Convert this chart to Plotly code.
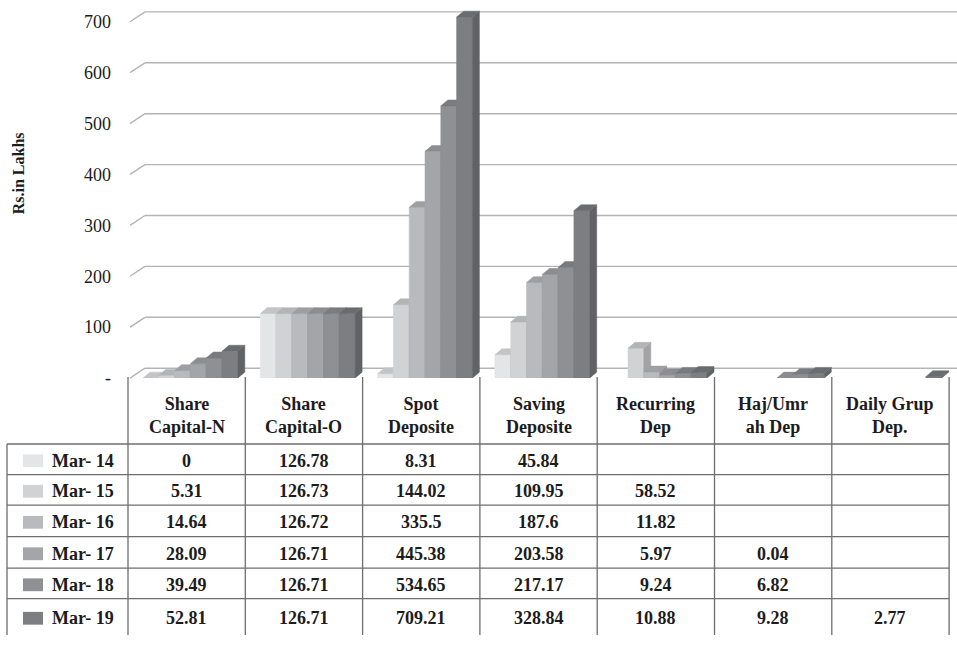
import plotly.graph_objects as go

# ---- data ----
categories = ["Share<br>Capital-N", "Share<br>Capital-O", "Spot<br>Deposite",
              "Saving<br>Deposite", "Recurring<br>Dep", "Haj/Umr<br>ah Dep",
              "Daily Grup<br>Dep."]
years = ["Mar- 14", "Mar- 15", "Mar- 16", "Mar- 17", "Mar- 18", "Mar- 19"]
mar14 = [0, 126.78, 8.31, 45.84, None, None, None]
mar15 = [5.31, 126.73, 144.02, 109.95, 58.52, None, None]
mar16 = [14.64, 126.72, 335.5, 187.6, 11.82, None, None]
mar17 = [28.09, 126.71, 445.38, 203.58, 5.97, 0.04, None]
mar18 = [39.49, 126.71, 534.65, 217.17, 9.24, 6.82, None]
mar19 = [52.81, 126.71, 709.21, 328.84, 10.88, 9.28, 2.77]
series = [mar14, mar15, mar16, mar17, mar18, mar19]
y_ticks = [0, 100, 200, 300, 400, 500, 600, 700]
y_tick_text = ["-", "100", "200", "300", "400", "500", "600", "700"]
axis_title = "Rs.in Lakhs"

colors = ["#e4e5e7", "#d1d2d4", "#b9babd", "#a4a5a8", "#8f9093", "#7d7e82"]

# ---- geometry (pixels) ----
W, H = 957, 645
PL, PB = 128, 384          # plot area left edge / baseline
GW = 117.3                 # width of one category column
KY = 0.517                 # pixels per value unit
X0 = -0.5
X1 = X0 + (W - PL) / GW
Y1 = PB / KY

BAR_OFF, BAR_W = 15.0 / GW, 15.8 / GW
DX, DY = 7.0 / GW, 6.0 / KY          # bar depth
WALL_DX, WALL_DY = 15.0, 10.0        # wall depth for grid lines, pixels

FONT = "Liberation Serif, Times New Roman, DejaVu Serif, serif"
INK = "#1c1c1c"


def shade(hex_color, f):
    h = hex_color.lstrip("#")
    r, g, b = (int(h[i:i + 2], 16) for i in (0, 2, 4))
    return "#%02x%02x%02x" % (int(r * f), int(g * f), int(b * f))


def px_x(p):
    return p / W


def px_y(p):
    return 1 - p / H


def value_px(v):
    # pixel row of a value on the y axis
    return PB - v * KY


fig = go.Figure()
shapes, annos = [], []

# back-wall grid lines, each with a short diagonal on the floor side
GRID = dict(color="#b4b4b4", width=1.4)
for v in y_ticks:
    yf = value_px(v)
    yb = yf - WALL_DY
    shapes.append(dict(type="line", xref="paper", yref="paper", layer="below",
                       x0=px_x(PL + 2), y0=px_y(yf),
                       x1=px_x(PL + 2 + WALL_DX), y1=px_y(yb), line=GRID))
    shapes.append(dict(type="line", xref="paper", yref="paper", layer="below",
                       x0=px_x(PL + 2 + WALL_DX), y0=px_y(yb),
                       x1=1, y1=px_y(yb), line=GRID))

# pseudo-3D bars: front, side and top faces, painted left to right
for k, vals in enumerate(series):
    faces = {"front": ([], []), "side": ([], []), "top": ([], [])}
    for g, v in enumerate(vals):
        if v is None:
            continue
        l = g - 0.5 + BAR_OFF + k * BAR_W
        r = l + BAR_W
        fx, fy = faces["front"]
        fx += [l, r, r, l, l, None]
        fy += [0, 0, v, v, 0, None]
        sx, sy = faces["side"]
        sx += [r, r + DX, r + DX, r, r, None]
        sy += [0, DY, v + DY, v, 0, None]
        tx, ty = faces["top"]
        tx += [l, r, r + DX, l + DX, l, None]
        ty += [v, v, v + DY, v + DY, v, None]
    face_col = {"front": colors[k], "side": shade(colors[k], 0.78),
                "top": shade(colors[k], 0.86)}
    for name in ("front", "side", "top"):
        xs, ys = faces[name]
        fig.add_trace(go.Scatter(x=xs, y=ys, mode="lines", fill="toself",
                                 fillcolor=face_col[name],
                                 line=dict(color=face_col[name], width=0.5),
                                 hoverinfo="skip", showlegend=False,
                                 name=years[k]))

# ---- data table below the plot ----
LINE = dict(color="#6e6e6e", width=1.3)
TABLE_L, TABLE_R = 7, PL + 7 * GW
HEAD_TOP, HEAD_BOT = 383, 451
row_lines = [451, 482, 513, 545, 577, 608, 645]

for b in range(8):
    xp = PL + b * GW
    shapes.append(dict(type="line", xref="paper", yref="paper",
                       x0=px_x(xp), x1=px_x(xp), y0=px_y(HEAD_TOP), y1=px_y(H),
                       line=LINE))
shapes.append(dict(type="line", xref="paper", yref="paper",
                   x0=px_x(TABLE_L), x1=px_x(TABLE_L), y0=px_y(HEAD_BOT),
                   y1=px_y(H), line=LINE))
for yl in row_lines[:-1]:
    shapes.append(dict(type="line", xref="paper", yref="paper",
                       x0=px_x(TABLE_L), x1=px_x(TABLE_R), y0=px_y(yl),
                       y1=px_y(yl), line=LINE))

cell_font = dict(family=FONT, size=18, color=INK)
for g, cat in enumerate(categories):
    annos.append(dict(xref="paper", yref="paper", x=px_x(PL + (g + 0.5) * GW),
                      y=px_y(422), text="<b>%s</b>" % cat, showarrow=False,
                      xanchor="center", yanchor="middle", font=cell_font))

for k, vals in enumerate(series):
    top, bot = row_lines[k], row_lines[k + 1]
    yc = (top + bot) / 2 + 1.5
    shapes.append(dict(type="rect", xref="paper", yref="paper",
                       x0=px_x(23), x1=px_x(43), y0=px_y(yc - 6.5),
                       y1=px_y(yc + 6.5), fillcolor=colors[k],
                       line=dict(width=0)))
    annos.append(dict(xref="paper", yref="paper", x=px_x(50), y=px_y(yc),
                      text="<b>%s</b>" % years[k], showarrow=False,
                      xanchor="left", yanchor="middle", font=cell_font))
    for g, v in enumerate(vals):
        if v is None:
            continue
        annos.append(dict(xref="paper", yref="paper",
                          x=px_x(PL + (g + 0.5) * GW), y=px_y(yc),
                          text="<b>%s</b>" % format(v, "g"), showarrow=False,
                          xanchor="center", yanchor="middle", font=cell_font))

annos.append(dict(xref="paper", yref="paper", x=px_x(18), y=px_y(176),
                  text="<b>%s</b>" % axis_title, textangle=-90,
                  showarrow=False, xanchor="center", yanchor="middle",
                  font=dict(family=FONT, size=16, color=INK)))

fig.update_layout(
    width=W, height=H,
    margin=dict(l=0, r=0, t=0, b=0, pad=0),
    paper_bgcolor="white", plot_bgcolor="rgba(0,0,0,0)",
    showlegend=False,
    font=dict(family=FONT, color=INK),
    xaxis=dict(domain=[PL / W, 1], range=[X0, X1], visible=False,
               showgrid=False, zeroline=False, fixedrange=True),
    yaxis=dict(domain=[1 - PB / H, 1], range=[0, Y1], tickvals=y_ticks,
               ticktext=y_tick_text, showgrid=False, zeroline=False,
               showline=False, ticks="", ticklabelstandoff=16,
               tickfont=dict(family=FONT, size=18, color=INK),
               fixedrange=True),
    shapes=shapes, annotations=annos,
)

fig.write_html("out.html")
